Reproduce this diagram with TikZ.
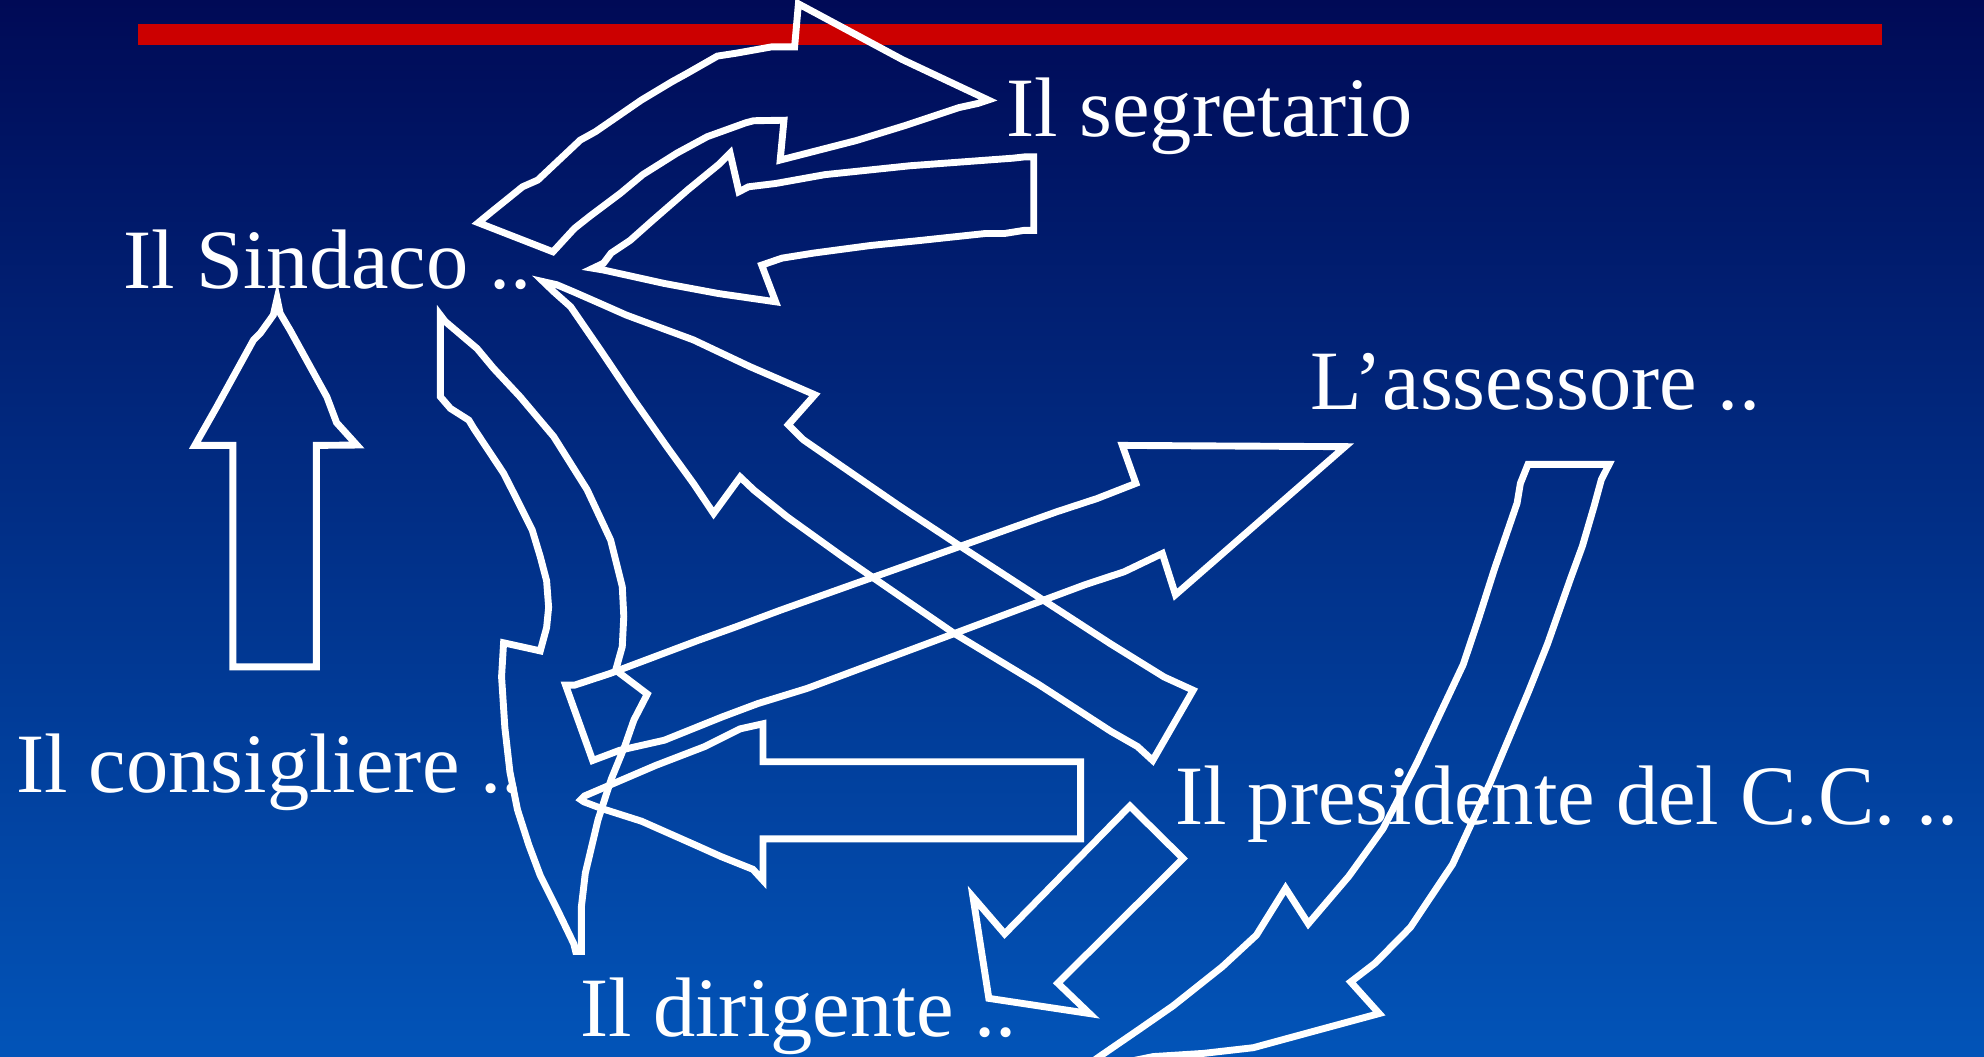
\documentclass[tikz,border=0pt]{standalone}
\usepackage{fontspec}
\setmainfont{Liberation Serif}
\definecolor{slidetop}{RGB}{0,10,86}
\definecolor{slidebottom}{RGB}{2,84,184}
\definecolor{titlebar}{RGB}{204,0,0}
\tikzset{
  label/.style={text=white,anchor=base west,inner sep=0pt,font=\fontsize{19}{22}\selectfont},
  blockarrow/.style={draw=white,line width=1.55pt,line join=miter}
}

\begin{document}
\begin{tikzpicture}[x=0.1mm,y=-0.1mm]
\useasboundingbox (0,0) rectangle (1568,835);
\clip (0,0) rectangle (1568,835);
% Background
\fill[top color=slidetop,bottom color=slidebottom] (0,0) rectangle (1568,835);
\fill[titlebar] (109,19) rectangle (1487,35.5);

% Roles
\node[label] (sindaco) at (97,228) {Il Sindaco ..};
\node[label] (segretario) at (795,107.5) {Il segretario};
\node[label] (assessore) at (1035,324) {L’assessore ..};
\node[label] (consigliere) at (12,626) {Il consigliere ..};
\node[label] (presidente) at (928,651.5) {Il presidente del C.C. ..};
\node[label] (dirigente) at (458,819) {Il dirigente ..};

% Sindaco -> segretario
\draw[blockarrow] (378,176) -- (387,168.6) -- (413,147.6) -- (425,142.3) -- (458.6,110.7)
  -- (470.7,104) -- (507,79) -- (531,64.6) -- (543,58) -- (567,44.3) -- (582,42)
  -- (610,37) -- (628,37) -- (631,3) -- (713,47) -- (781,79) -- (773,81.7) -- (758,85)
  -- (716,99) -- (677,111) -- (616.6,126.5) -- (619.6,95) -- (595.6,95.4) -- (589.5,97)
  -- (559,108) -- (535,121) -- (508,138) -- (490,153) -- (466,171) -- (454,180.5)
  -- (437,199) -- cycle;

% segretario -> Sindaco
\draw[blockarrow] (817,124) -- (809.6,124) -- (800.5,125) -- (719,131) -- (652,138)
  -- (613,145) -- (591.6,147.6) -- (584,151.5) -- (577,121) -- (568,130) -- (543.6,150)
  -- (516,174) -- (498,190) -- (483,200) -- (477,208) -- (468.6,212) -- (477,213.4)
  -- (525,224) -- (568,232) -- (613,238.5) -- (602,209.5) -- (618,204) -- (643,200)
  -- (688,194) -- (727.5,190) -- (779,184.5) -- (794,184.5) -- (809.6,182) -- (817,182)
  -- cycle;

% consigliere -> Sindaco
\draw[blockarrow] (219,236) -- (221.4,247.6) -- (229.3,261) -- (258.3,313.6) -- (266,334)
  -- (282,351.7) -- (250,352) -- (250,527) -- (184,527) -- (184,352) -- (154,352)
  -- (171.3,321.5) -- (200.3,268.8) -- (205.6,263.5) -- (216,249) -- cycle;

% Sindaco -> dirigente
\draw[blockarrow] (348,249) -- (348,313.5) -- (356,322.8) -- (370.5,332) -- (374.5,338.6)
  -- (398,374) -- (408.7,395) -- (420.6,418.8) -- (427,440) -- (432,459) -- (433.6,480)
  -- (432,496) -- (427,514.4) -- (398,508) -- (396.4,534.8) -- (399,575) -- (403,610)
  -- (409,640) -- (418,668) -- (427,692) -- (441,720) -- (453.4,745.7) -- (455,752)
  -- (459.5,752) -- (459.5,716.5) -- (462.6,690) -- (472.6,648) -- (483,616)
  -- (493.8,589.6) -- (501,569) -- (511.6,548.5) -- (486.6,529.6) -- (491.8,511)
  -- (493,487) -- (491.8,463.6) -- (482.6,426.8) -- (464,387) -- (437.6,345)
  -- (411,313.5) -- (390,291) -- (377,275.4) -- (351.8,254) -- cycle;

% presidente -> Sindaco
\draw[blockarrow] (429.4,222.6) -- (440,225) -- (453,230.5) -- (474,239.7) -- (495,249)
  -- (548,268.6) -- (592.6,289.7) -- (616.4,300) -- (644,312) -- (623,335.7)
  -- (635,347.6) -- (677,376.6) -- (711,400) -- (758,431) -- (821,472) -- (878,509)
  -- (920,535) -- (943,545.5) -- (911,601) -- (899,590) -- (878,578) -- (821,541)
  -- (754,500.5) -- (666,440) -- (622,408.4) -- (595.8,387.3) -- (585,377)
  -- (564,405.8) -- (548,382) -- (527,353) -- (501,316) -- (474.5,276.6)
  -- (451,242.4) -- (437.6,230.5) -- cycle;

% consigliere -> assessore
\draw[blockarrow] (447,541.5) -- (454,541.5) -- (482,532.3) -- (520.6,517.8) -- (552,506)
  -- (581.3,495.5) -- (616.6,482.3) -- (690.6,456) -- (757.6,432.2) -- (835,404.5)
  -- (867,394) -- (897.7,382) -- (887,352) -- (1063,353) -- (929,470) -- (918.6,437.4)
  -- (888.6,451.8) -- (857,462.3) -- (825,474.2) -- (754.7,500.5) -- (638,544)
  -- (599,556) -- (570.7,566.6) -- (525,585) -- (489.6,593) -- (468.4,601) -- cycle;

% presidente -> consigliere
\draw[blockarrow] (459,632) -- (462,629) -- (476,623) -- (518,605) -- (557,590)
  -- (585,576) -- (603,572) -- (603,602) -- (854,602) -- (854,663) -- (603,663)
  -- (603,695.7) -- (595,687) -- (570,677) -- (549,667.6) -- (507,649) -- (475.6,639)
  -- (461.5,633.7) -- cycle;

% presidente -> dirigente
\draw[blockarrow] (893,637) -- (935,678.5) -- (836,777) -- (861,801) -- (781.5,789)
  -- (769,709) -- (794,738) -- cycle;

% assessore -> dirigente
\draw[blockarrow] (1207.6,367) -- (1271.7,367) -- (1265.6,379) -- (1259.7,400.6)
  -- (1250.6,431.6) -- (1241.5,456.5) -- (1223,509) -- (1208,546.6) -- (1178,618)
  -- (1148,683) -- (1114.6,733) -- (1087,761) -- (1067.5,776) -- (1090,801)
  -- (1042,814) -- (990.5,828) -- (951,832.5) -- (911.6,835) -- (852,847)
  -- (869,835) -- (899.6,814) -- (927,795) -- (966,764) -- (993,739) -- (1016,702)
  -- (1034,730) -- (1066,692.5) -- (1093,655) -- (1120,602.5) -- (1156.5,525)
  -- (1169,487.6) -- (1181,450) -- (1199,397.6) -- (1201.6,382) -- cycle;
\end{tikzpicture}
\end{document}
